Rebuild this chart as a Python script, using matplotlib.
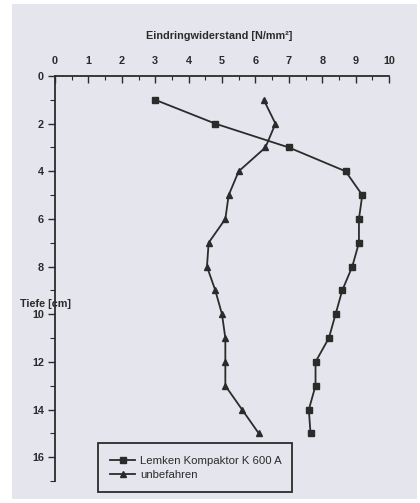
import matplotlib
matplotlib.use("Agg")
import matplotlib.pyplot as plt
from matplotlib.patches import Rectangle
from matplotlib.ticker import MultipleLocator

plt.rcParams['font.family'] = ['Liberation Sans', 'DejaVu Sans']

tiefe = [1, 2, 3, 4, 5, 6, 7, 8, 9, 10, 11, 12, 13, 14, 15]
lemken = [3.0, 4.8, 7.0, 8.7, 9.2, 9.1, 9.1, 8.9, 8.6, 8.4, 8.2, 7.8, 7.8, 7.6, 7.65]
unbefahren = [6.25, 6.6, 6.3, 5.5, 5.2, 5.1, 4.6, 4.55, 4.8, 5.0, 5.1, 5.1, 5.1, 5.6, 6.1]

x_ticks = [0, 1, 2, 3, 4, 5, 6, 7, 8, 9, 10]
y_ticks = [0, 2, 4, 6, 8, 10, 12, 14, 16]

INK = '#2b2b2b'
BG = '#e5e6ed'

fig = plt.figure(figsize=(4.2, 5.03), dpi=100)
fig.patch.set_facecolor('white')
# grauer Scan-Hintergrund (hinter den Achsen)
fig.patches.append(Rectangle((12 / 420, 1 - 499 / 503), 405 / 420, 495 / 503,
                             transform=fig.transFigure, facecolor=BG,
                             edgecolor='none', zorder=-10))

ax = fig.add_axes([55 / 420, 1 - 481 / 503, 334 / 420, 405 / 503])
ax.set_facecolor('none')

ax.plot(lemken, tiefe, color=INK, lw=1.3, marker='s', ms=4.2,
        label='Lemken Kompaktor K 600 A')
ax.plot(unbefahren, tiefe, color=INK, lw=1.3, marker='^', ms=4.8,
        label='unbefahren')

ax.set_xlim(0, 10)
ax.set_ylim(17, 0)

ax.spines['right'].set_visible(False)
ax.spines['bottom'].set_visible(False)
ax.spines['top'].set_color(INK)
ax.spines['left'].set_color(INK)
ax.spines['top'].set_linewidth(1.3)
ax.spines['left'].set_linewidth(1.3)

ax.xaxis.tick_top()
ax.set_xticks(x_ticks)
ax.xaxis.set_minor_locator(MultipleLocator(0.5))
ax.tick_params(axis='x', which='major', direction='in', length=5, width=1,
               color=INK, labelsize=7.8, labelcolor=INK, pad=7)
ax.tick_params(axis='x', which='minor', direction='in', length=3, width=0.8,
               color=INK)

ax.set_yticks(y_ticks)
ax.yaxis.set_minor_locator(MultipleLocator(1))
ax.tick_params(axis='y', which='major', direction='out', length=5, width=1,
               color=INK, labelsize=7.8, labelcolor=INK, pad=3)
ax.tick_params(axis='y', which='minor', direction='out', length=3.5, width=0.8,
               color=INK)
for lbl in ax.get_xticklabels() + ax.get_yticklabels():
    lbl.set_fontweight('bold')

fig.text(219 / 420, 1 - 36 / 503, 'Eindringwiderstand [N/mm²]', ha='center',
         va='center', fontsize=7.8, fontweight='bold', color=INK)
fig.text(20 / 420, 1 - 304 / 503, 'Tiefe [cm]', ha='left', va='center',
         fontsize=7.8, fontweight='bold', color=INK)

# Legendenkasten ragt unten etwas über das Achsenende hinaus
leg = ax.legend(loc='lower left', bbox_to_anchor=(37 / 334, -17 / 405, 206 / 334, 50 / 405),
                mode='expand', frameon=True, fancybox=False, fontsize=8.2,
                handlelength=2.2, handletextpad=0.4, borderpad=1.1,
                labelspacing=0.35, facecolor=BG, edgecolor=INK, framealpha=1)
leg.get_frame().set_linewidth(1.3)
for t in leg.get_texts():
    t.set_color(INK)

fig.savefig('out.png', dpi=100)
